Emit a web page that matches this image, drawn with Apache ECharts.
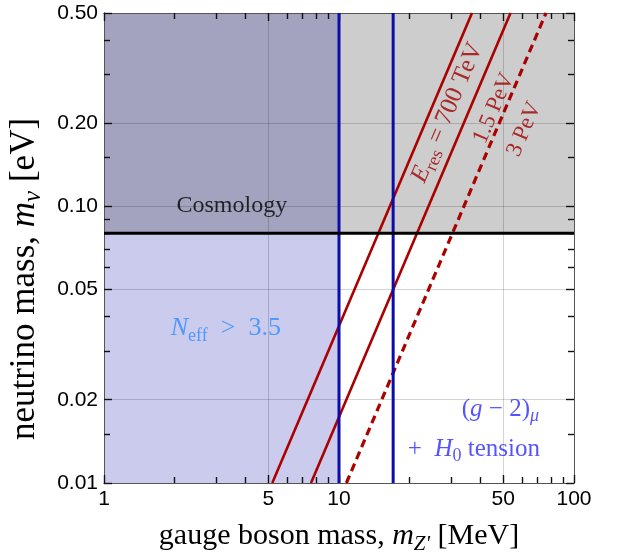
<!DOCTYPE html>
<html><head><meta charset="utf-8">
<script src="https://cdn.jsdelivr.net/npm/echarts@6/dist/echarts.min.js"></script>
<style>html,body{margin:0;padding:0;background:#fff}#c{width:617px;height:554px}</style>
</head><body><div id="c"></div>
<script>
// ---- data ----
const xTickLabels = [1, 5, 10, 50, 100];
const xMinorTicks = [2, 3, 4, 6, 7, 8, 9, 20, 30, 40, 60, 70, 80, 90];
const yTickLabels = [0.01, 0.02, 0.05, 0.1, 0.2, 0.5];
const yMinorTicks = [0.015, 0.03, 0.04, 0.06, 0.07, 0.08, 0.09, 0.15, 0.3, 0.4];
const mZRange = [1, 100];          // MeV
const mNuRange = [0.01, 0.5];      // eV
const cosmologyLimit = 0.08;       // eV
const neffLimit = 10;              // MeV
const g2Band = [10, 17];           // MeV
const eres700TeV = [[5.2, 0.01], [36.8, 0.5]];
const eres1p5PeV = [[7.6, 0.01], [53.7, 0.5]];
const eres3PeV = [[10.75, 0.01], [76, 0.5]];
const annotationText = {
  cosmology: '{n|Cosmology}',
  neff: '{it|N}{sub|eff}{n|\u2002>\u20023.5}',
  g2: '{n|(}{it|g}{n| − 2)}{subi|μ}',
  h0: '{n|+  }{it|H}{sub|0}{n| tension}',
  e700: '{it|E}{sub|res}{n| = 700 TeV}',
  e1500: '{n|1.5 PeV}',
  e3000: '{n|3 PeV}'
};
const annotationAt = {
  cosmology: [3.5, 0.1005],
  neff: [3.3, 0.0362],
  g2: [48.6, 0.0184],
  h0: [37.5, 0.0132],
  e700: [28.9, 0.218],
  e1500: [45.6, 0.226],
  e3000: [61.5, 0.19]
};

// ---- styling ----
const SERIF = 'Liberation Serif';
const SANS = 'Liberation Sans';
function richSet(color, size) {
  const s = Math.round(size * 0.7);
  return {
    n: {fontFamily: SERIF, fontSize: size, color: color, lineHeight: size + 7},
    it: {fontFamily: SERIF, fontStyle: 'italic', fontSize: size, color: color, lineHeight: size + 7},
    sub: {fontFamily: SERIF, fontSize: s, color: color, lineHeight: s, verticalAlign: 'bottom'},
    subi: {fontFamily: SERIF, fontStyle: 'italic', fontSize: s, color: color, lineHeight: s, verticalAlign: 'bottom'}
  };
}
const tickColor = '#111';
const gridColor = 'rgba(0,0,0,0.17)';

function axisDef(isX, pos, ticks, len, opts) {
  return Object.assign({
    type: 'log', logBase: 10,
    min: isX ? mZRange[0] : mNuRange[0], max: isX ? mZRange[1] : mNuRange[1],
    position: pos,
    axisLine: {show: true, onZero: false, lineStyle: {color: '#555'}},
    axisTick: {show: true, inside: true, length: len, customValues: ticks, lineStyle: {color: tickColor, width: 1.4}},
    axisLabel: {show: false},
    splitLine: {show: false}
  }, opts || {});
}

const xAxes = [
  axisDef(true, 'bottom', xTickLabels, 8, {
    axisLabel: {show: true, customValues: xTickLabels, margin: 6, color: '#000',
      fontFamily: SANS, fontSize: 21, formatter: v => String(Math.round(v))},
    splitLine: {show: true, lineStyle: {color: gridColor, width: 1}},
    name: '{n|gauge boson mass, }{it|m}{subi|Z\'}{n| [MeV]}',
    nameLocation: 'middle', nameGap: 35,
    nameTextStyle: {rich: richSet('#000', 30)}
  }),
  axisDef(true, 'bottom', xMinorTicks, 6),
  axisDef(true, 'top', xTickLabels, 8),
  axisDef(true, 'top', xMinorTicks, 6)
];
const yAxes = [
  axisDef(false, 'left', yTickLabels, 8, {
    axisLabel: {show: true, customValues: yTickLabels, margin: 6, color: '#000',
      fontFamily: SANS, fontSize: 21, formatter: v => Number(v).toFixed(2)},
    splitLine: {show: true, lineStyle: {color: gridColor, width: 1}},
    name: '{n|neutrino mass, }{it|m}{subi|ν}{n| [eV]}',
    nameLocation: 'middle', nameGap: 53,
    nameTextStyle: {rich: richSet('#000', 35), padding: [0, 62, 0, 0]}
  }),
  axisDef(false, 'left', yMinorTicks, 6),
  axisDef(false, 'right', yTickLabels, 8),
  axisDef(false, 'right', yMinorTicks, 6)
];

function lineSeries(name, data, color, width, type, z) {
  return {
    name: name, type: 'line', xAxisIndex: 0, yAxisIndex: 0, data: data,
    showSymbol: false, symbol: 'none', silent: true, animation: false, z: z,
    lineStyle: {color: color, width: width, type: type || 'solid'}
  };
}
// invisible carriers so that every tick axis owns data
function carrier(i) {
  return {
    type: 'line', xAxisIndex: i, yAxisIndex: i, symbol: 'none', silent: true,
    data: [[mZRange[0], mNuRange[0]], [mZRange[1], mNuRange[1]]],
    lineStyle: {color: 'rgba(0,0,0,0)', width: 1}
  };
}

const annotationKeys = Object.keys(annotationText);
const annStyle = {
  cosmology: {color: '#000', size: 24, rotate: 0},
  neff: {color: '#2f8cff', size: 26, rotate: 0},
  g2: {color: '#2a2aff', size: 25, rotate: 0},
  h0: {color: '#2a2aff', size: 25, rotate: 0},
  e700: {color: '#a00000', size: 25, rotate: 67},
  e1500: {color: '#a00000', size: 23, rotate: 67},
  e3000: {color: '#a00000', size: 23, rotate: 67}
};

const option = {
  animation: false,
  grid: {left: 104, right: 43, top: 13, bottom: 71, outerBoundsMode: 'none'},
  xAxis: xAxes,
  yAxis: yAxes,
  series: [
    carrier(0), carrier(1), carrier(2), carrier(3),
    {
      type: 'line', xAxisIndex: 0, yAxisIndex: 0, data: [], z: -2, silent: true,
      markArea: {
        silent: true, z: -2, label: {show: false},
        data: [
          [{coord: [mZRange[0], cosmologyLimit], itemStyle: {color: '#a3a3bf', opacity: 1}}, {coord: [neffLimit, mNuRange[1]]}],
          [{coord: [neffLimit, cosmologyLimit], itemStyle: {color: '#cdcdcd', opacity: 1}}, {coord: [mZRange[1], mNuRange[1]]}],
          [{coord: [mZRange[0], mNuRange[0]], itemStyle: {color: '#cbcbee', opacity: 1}}, {coord: [neffLimit, cosmologyLimit]}]
        ]
      }
    },
    lineSeries('700 TeV', eres700TeV, '#aa0000', 2.6, 'solid', 4),
    lineSeries('1.5 PeV', eres1p5PeV, '#aa0000', 2.6, 'solid', 4),
    lineSeries('3 PeV', eres3PeV, '#aa0000', 3.2, [8, 5], 4),
    lineSeries('g-2 low', [[g2Band[0], mNuRange[0]], [g2Band[0], mNuRange[1]]], '#0c0caa', 3, 'solid', 5),
    lineSeries('g-2 high', [[g2Band[1], mNuRange[0]], [g2Band[1], mNuRange[1]]], '#0c0caa', 3, 'solid', 5),
    lineSeries('cosmology', [[mZRange[0], cosmologyLimit], [mZRange[1], cosmologyLimit]], '#000', 3, 'solid', 6),
    {
      type: 'scatter', xAxisIndex: 0, yAxisIndex: 0, symbolSize: 0, silent: true, z: 7,
      data: annotationKeys.map(k => ({
        value: annotationAt[k],
        label: {
          show: true, position: 'inside', rotate: annStyle[k].rotate,
          formatter: annotationText[k], align: 'center', verticalAlign: 'middle',
          rich: richSet(annStyle[k].color, annStyle[k].size)
        }
      }))
    }
  ]
};
const chart = echarts.init(document.getElementById('c'), null, {renderer: 'canvas'});
chart.setOption(option);
</script></body></html>
